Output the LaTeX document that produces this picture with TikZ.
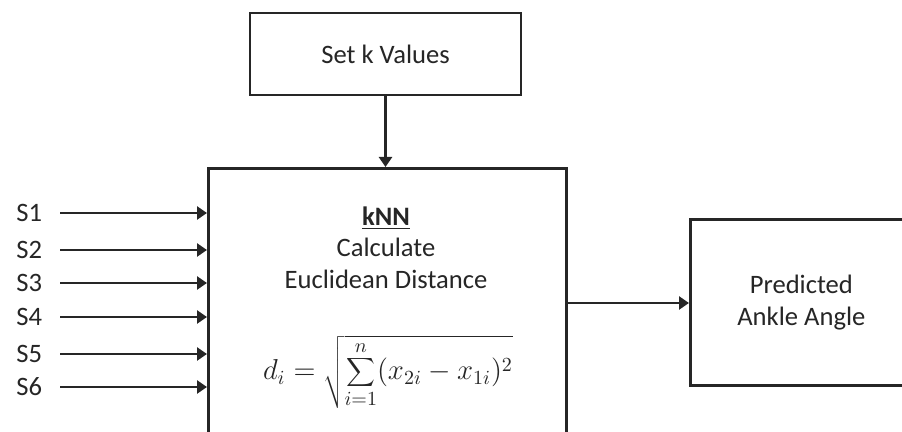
\documentclass[tikz,border=0pt]{standalone}
\usepackage{fontspec}
\setmainfont{Carlito}
\usetikzlibrary{arrows.meta, positioning}

\tikzset{
  blockbox/.style={draw=black!85, line width=1.35pt, fill=white, inner sep=0pt},
  flowarrow/.style={line width=1.35pt, black!85, -{Triangle[length=5pt,width=6.5pt]}},
  boxtext/.style={font=\fontsize{13.3}{16}\selectfont, text=black!85, inner sep=0pt},
}

\begin{document}
\begin{tikzpicture}[x=0.5pt, y=-0.5pt]
\clip (0,0) rectangle (902,432);

% blocks
\node [blockbox, minimum width=135.5pt, minimum height=41pt, boxtext] (setk) at (385.5,54) {Set k Values};
\node [blockbox, minimum width=179pt, minimum height=150pt, anchor=north west] (knn) at (207,167) {};
\node [blockbox, minimum width=111pt, minimum height=83pt, anchor=north west, boxtext, align=center] (pred) at (689,218) {Predicted\\Ankle Angle};

% text in the kNN block
\node [boxtext, anchor=base] (knntitle) at (386,226) {\textbf{\underline{kNN}}};
\node [boxtext, anchor=base] (calc) at (386,257) {Calculate};
\node [boxtext, anchor=base] (euclid) at (386,289) {Euclidean Distance};
\node [boxtext, anchor=base, font=\fontsize{13.8}{16}\selectfont] (dist) at (388,380)
  {$\displaystyle d_i = \sqrt{\sum_{i=1}^{n}(x_{2i}-x_{1i})^2}$};

% sensor inputs
\foreach \i/\y in {1/213, 2/250, 3/283, 4/317, 5/354, 6/387} {
  \node [boxtext, anchor=base west] (s\i) at (16,\y+8.5) {S\i};
  \coordinate (in\i) at (60,\y);
  \draw [flowarrow] (in\i) -- (in\i -| knn.west);
}

\coordinate (knnout) at (565,303);
\draw [flowarrow] (setk.south) -- (setk.south |- knn.north);
\draw [flowarrow] (knnout) -- (knnout -| pred.west);

\end{tikzpicture}
\end{document}
